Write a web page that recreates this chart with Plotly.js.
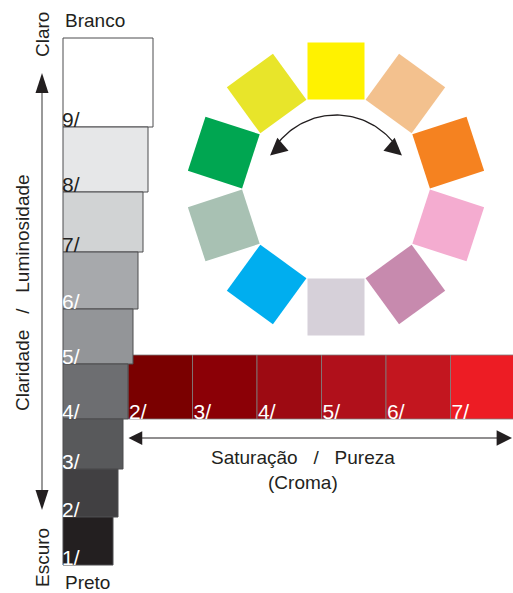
<!DOCTYPE html>
<html>
<head>
<meta charset="utf-8">
<script src="https://cdn.plot.ly/plotly-3.0.1.min.js"></script>
<style>html,body{margin:0;padding:0;background:#fff;}#chart{width:513px;height:593px;}</style>
</head>
<body>
<div id="chart"></div>
<script>
// ---- data ----
const valueLevels = [9, 8, 7, 6, 5, 4, 3, 2, 1];
const valueGrays = ['#ffffff', '#e6e7e8', '#d1d3d4', '#a7a9ac', '#939598', '#6d6e71', '#58595b', '#414042', '#231f20'];
const valueLabels = ['9/', '8/', '7/', '6/', '5/', '4/', '3/', '2/', '1/'];
const chromaLevels = [2, 3, 4, 5, 6, 7];
const chromaReds = ['#7a0000', '#8b0006', '#9d0a12', '#b0101b', '#c3161f', '#ed1c24'];
const chromaLabels = ['2/', '3/', '4/', '5/', '6/', '7/'];
const hueColors = ['#fff200', '#f3c18e', '#f58220', '#f4acd0', '#c78aae', '#d6d0d9', '#00aeef', '#a8c1b3', '#00a651', '#e8e52a'];
const textLight = 'Claro', textDark = 'Escuro', textWhite = 'Branco', textBlack = 'Preto';
const valueTitle = 'Claridade\u00a0\u00a0 /\u00a0\u00a0 Luminosidade';
const chromaTitle = 'Saturação\u00a0\u00a0 /\u00a0\u00a0 Pureza<br>(Croma)';

// ---- geometry (page pixels used as axis units) ----
const W = 513, H = 593;
const blockLeft = 63;
const blockEdges = [38, 127, 192, 252, 309, 364, 419, 469, 517, 565];
const blockTop = blockEdges.slice(0, -1), blockBot = blockEdges.slice(1);
const blockWidth = valueLevels.map(v => 45 + 5 * v);
const chromaLeft = 128, chromaStep = 64.5, chromaTop = 355, chromaBot = 419;
const wheel = {cx: 336, cy: 189, r: 118, size: 57, arcR: 74, arcA: 63};
const vArrow = {x: 42, top: 73, bot: 510};
const hArrow = {y: 438, left: 127, right: 512};
const font = 'Liberation Sans, Arial, sans-serif';
const ink = '#231f20';
const labelSize = 21;

const traces = [];
// chroma row
traces.push({
  type: 'bar', orientation: 'v',
  x: chromaLevels.map((c, i) => chromaLeft + chromaStep * (i + 0.5)),
  y: chromaLevels.map(() => chromaBot - chromaTop),
  base: chromaTop, width: chromaStep,
  marker: {color: chromaReds, line: {color: '#7d7d7d', width: 0.8}},
  hoverinfo: 'skip'
});
// value column
traces.push({
  type: 'bar', orientation: 'h',
  y: valueLevels.map((v, i) => (blockTop[i] + blockBot[i]) / 2),
  x: blockWidth, base: blockLeft,
  width: valueLevels.map((v, i) => blockBot[i] - blockTop[i]),
  marker: {color: valueGrays, line: {color: '#4d4d4f', width: 1}},
  hoverinfo: 'skip'
});
// value labels
traces.push({
  type: 'scatter', mode: 'text',
  x: valueLevels.map(() => blockLeft - 1),
  y: blockBot.map(b => b + 5),
  text: valueLabels, textposition: 'top right',
  textfont: {family: font, size: labelSize, color: valueLevels.map(v => v >= 7 ? ink : '#ffffff')},
  hoverinfo: 'skip'
});
// chroma labels
traces.push({
  type: 'scatter', mode: 'text',
  x: chromaLevels.map((c, i) => chromaLeft + chromaStep * i + 1),
  y: chromaLevels.map(() => chromaBot + 5),
  text: chromaLabels, textposition: 'top right',
  textfont: {family: font, size: labelSize, color: '#ffffff'},
  hoverinfo: 'skip'
});
// hue wheel
const hueAng = hueColors.map((c, i) => i * 360 / hueColors.length);
traces.push({
  type: 'scatter', mode: 'markers',
  x: hueAng.map(a => wheel.cx + wheel.r * Math.sin(a * Math.PI / 180)),
  y: hueAng.map(a => wheel.cy - wheel.r * Math.cos(a * Math.PI / 180)),
  marker: {symbol: 'square', size: wheel.size, color: hueColors, angle: hueAng, line: {width: 0}},
  hoverinfo: 'skip'
});
// arc
const P = (a, r) => [wheel.cx + r * Math.sin(a * Math.PI / 180), wheel.cy - r * Math.cos(a * Math.PI / 180)];
const arcX = [], arcY = [];
for (let a = -wheel.arcA + 6; a <= wheel.arcA - 6 + 0.01; a += 2) {
  const p = P(a, wheel.arcR); arcX.push(p[0]); arcY.push(p[1]);
}
traces.push({type: 'scatter', mode: 'lines', x: arcX, y: arcY, line: {color: ink, width: 1.3}, hoverinfo: 'skip'});
// vertical arrow line + heads
traces.push({type: 'scatter', mode: 'lines', x: [vArrow.x, vArrow.x], y: [vArrow.top + 10, vArrow.bot - 10],
  line: {color: '#555555', width: 1.2}, hoverinfo: 'skip'});
traces.push({type: 'scatter', mode: 'markers', x: [vArrow.x, vArrow.x], y: [vArrow.top, vArrow.bot],
  marker: {symbol: 'arrow', size: 21, angle: [0, 180], color: ink, line: {width: 0}}, hoverinfo: 'skip'});

const arrowBase = {text: '', showarrow: true, axref: 'x', ayref: 'y', xref: 'x', yref: 'y',
  arrowhead: 2, arrowsize: 3.1, arrowwidth: 1.1, arrowcolor: ink, standoff: 0, startstandoff: 0};
const tipL = P(-wheel.arcA, wheel.arcR), tipR = P(wheel.arcA, wheel.arcR);
const headDir = 229 * Math.PI / 180;
const annotations = [
  Object.assign({}, arrowBase, {x: tipL[0], y: tipL[1], ax: tipL[0] - 11 * Math.sin(headDir), ay: tipL[1] + 11 * Math.cos(headDir)}),
  Object.assign({}, arrowBase, {x: tipR[0], y: tipR[1], ax: tipR[0] + 11 * Math.sin(headDir), ay: tipR[1] + 11 * Math.cos(headDir)}),
  // horizontal chroma arrow
  Object.assign({}, arrowBase, {x: hArrow.right, y: hArrow.y, ax: hArrow.left, ay: hArrow.y, arrowside: 'end+start',
    startarrowhead: 2, arrowsize: 2.8, startarrowsize: 2.5, arrowwidth: 1.1, arrowcolor: ink}),
  {x: blockLeft, y: 20, xref: 'x', yref: 'y', text: textWhite, showarrow: false, xanchor: 'left', yanchor: 'middle', font: {family: font, size: 19, color: ink}},
  {x: blockLeft, y: 582, xref: 'x', yref: 'y', text: textBlack, showarrow: false, xanchor: 'left', yanchor: 'middle', font: {family: font, size: 19, color: ink}},
  {x: 42, y: 35, xref: 'x', yref: 'y', text: textLight, showarrow: false, textangle: -90, font: {family: font, size: 19, color: ink}},
  {x: 42, y: 558, xref: 'x', yref: 'y', text: textDark, showarrow: false, textangle: -90, font: {family: font, size: 19, color: ink}},
  {x: 22, y: 293, xref: 'x', yref: 'y', text: valueTitle, showarrow: false, textangle: -90, font: {family: font, size: 19, color: ink}},
  {x: 303, y: 470, xref: 'x', yref: 'y', text: chromaTitle, showarrow: false, align: 'center', font: {family: font, size: 19, color: ink}}
];

const layout = {
  width: W, height: H, margin: {l: 0, r: 0, t: 0, b: 0},
  paper_bgcolor: '#ffffff', plot_bgcolor: '#ffffff',
  showlegend: false, barmode: 'overlay', bargap: 0,
  xaxis: {range: [0, W], visible: false, fixedrange: true},
  yaxis: {range: [H, 0], visible: false, fixedrange: true},
  annotations: annotations,
  font: {family: font}
};
Plotly.newPlot('chart', traces, layout, {staticPlot: true, displayModeBar: false});
</script>
</body>
</html>
